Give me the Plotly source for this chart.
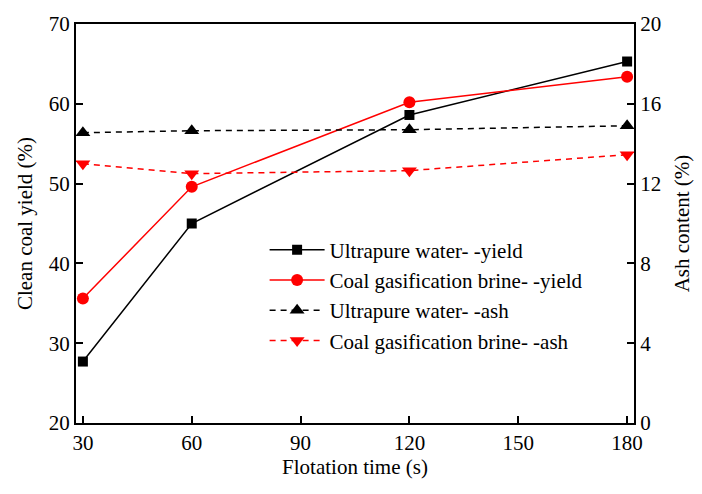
import plotly.graph_objects as go

time_s = [30, 60, 120, 180]
yield_uw = [27.7, 45.0, 58.6, 65.3]
yield_cgb = [35.6, 49.6, 60.2, 63.4]
ash_uw = [14.55, 14.65, 14.7, 14.9]
ash_cgb = [13.0, 12.5, 12.65, 13.45]

x_ticks = [30, 60, 90, 120, 150, 180]
y1_ticks = [20, 30, 40, 50, 60, 70]
y2_ticks = [0, 4, 8, 12, 16, 20]

FONT = "'Liberation Serif', 'Times New Roman', Times, serif"

fig = go.Figure()
fig.add_trace(go.Scatter(x=time_s, y=yield_uw, name="Ultrapure water- -yield",
                         mode="lines+markers", line=dict(color="black", width=1.5),
                         marker=dict(symbol="square", size=10, color="black")))
fig.add_trace(go.Scatter(x=time_s, y=yield_cgb, name="Coal gasification brine- -yield",
                         mode="lines+markers", line=dict(color="#ff0000", width=1.5),
                         marker=dict(symbol="circle", size=12, color="#ff0000")))
fig.add_trace(go.Scatter(x=time_s, y=ash_uw, name="Ultrapure water- -ash", yaxis="y2",
                         mode="lines+markers", line=dict(color="black", width=1.5, dash="6px,5px"),
                         marker=dict(symbol="triangle-up", size=13, color="black")))
fig.add_trace(go.Scatter(x=time_s, y=ash_cgb, name="Coal gasification brine- -ash", yaxis="y2",
                         mode="lines+markers", line=dict(color="#ff0000", width=1.5, dash="6px,5px"),
                         marker=dict(symbol="triangle-down", size=13, color="#ff0000")))

axis_common = dict(showline=True, linecolor="black", linewidth=2, ticks="inside",
                   ticklen=7, tickwidth=1.5, tickcolor="black", showgrid=False, zeroline=False,
                   tickfont=dict(family=FONT, size=21, color="black"))

fig.update_layout(
    width=702, height=494,
    margin=dict(l=76, r=59, t=16, b=71),
    paper_bgcolor="white", plot_bgcolor="white",
    font=dict(family=FONT, color="black"),
    xaxis=dict(range=[28.1, 181.9], tickvals=x_ticks, mirror=True,
               title=dict(text="Flotation time (s)", font=dict(family=FONT, size=21), standoff=0),
               **axis_common),
    yaxis=dict(range=[20, 70], tickvals=y1_ticks,
               title=dict(text="Clean coal yield (%)", font=dict(family=FONT, size=21), standoff=10),
               **axis_common),
    yaxis2=dict(range=[0, 20], tickvals=y2_ticks, overlaying="y", side="right",
                title=dict(text="Ash content (%)", font=dict(family=FONT, size=21), standoff=14),
                **axis_common),
    legend=dict(x=0.338, y=0.485, xanchor="left", yanchor="top", bgcolor="rgba(0,0,0,0)",
                font=dict(family=FONT, size=21), itemwidth=55, tracegroupgap=0),
    showlegend=True,
)

fig.write_html("out.html")
